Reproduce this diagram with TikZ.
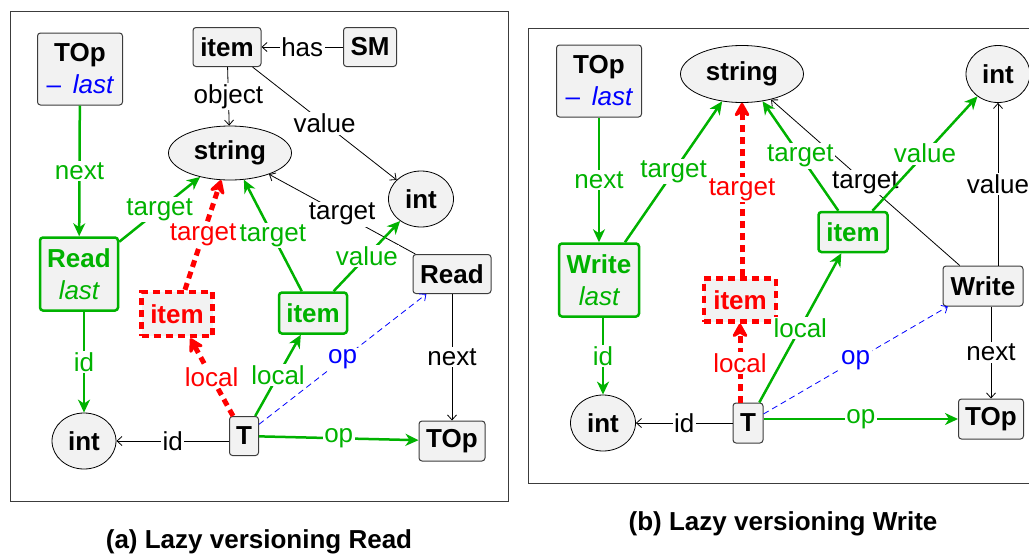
\documentclass[tikz,border=0pt]{standalone}
\usepackage{fontspec}
\setmainfont{Liberation Sans}
\usetikzlibrary{arrows.meta,shapes.geometric}
\definecolor{gr}{RGB}{0,178,0}
\definecolor{rd}{RGB}{255,0,0}
\definecolor{bl}{RGB}{0,0,255}
\definecolor{boxfill}{RGB}{242,242,242}
\definecolor{boxline}{RGB}{60,60,60}
\begin{document}
\begin{tikzpicture}[x=1pt,y=-1pt,
  every node/.style={font=\fontsize{26}{32}\selectfont},
  bx/.style={draw=boxline, fill=boxfill, rounded corners=3pt, line width=1pt, inner sep=0pt, font=\fontsize{26}{32}\selectfont\bfseries, align=center},
  gbx/.style={bx, draw=gr, line width=2.5pt, text=gr},
  rbx/.style={bx, draw=rd, line width=4.5pt, dash pattern=on 7pt off 5pt, rounded corners=0pt, text=rd},
  el/.style={ellipse, draw=black, fill=boxfill, line width=0.8pt, inner sep=0pt, font=\fontsize{26}{32}\selectfont\bfseries},
  sz/.style 2 args={minimum width=#1pt, minimum height=#2pt},
  blk/.style={draw=black, line width=0.8pt, -{Straight Barb[length=5pt,width=9pt]}},
  grn/.style={draw=gr, line width=2.5pt, -{Stealth[length=13pt,width=12pt,inset=4pt]}},
  redarr/.style={draw=rd, line width=5pt, dash pattern=on 7pt off 5pt, -{Stealth[length=17pt,width=19pt,round]}},
  blu/.style={draw=bl, line width=0.8pt, dash pattern=on 6pt off 4pt, -{Straight Barb[length=5pt,width=9pt]}},
  lb/.style={fill=white, inner sep=1.5pt, font=\fontsize{26}{30}\selectfont},
  captext/.style={font=\fontsize{26}{30}\selectfont\bfseries},
]
\useasboundingbox (0,0) rectangle (1029,555);
% frames
\draw[boxline, line width=1pt] (10,11) rectangle (508,501);
\draw[boxline, line width=1pt] (528,28) rectangle (1040,483);

% ---------- panel (a) ----------
\node[bx, sz={85}{72}] (aTop) at (80,69) {TOp\\{\color{bl}\mdseries –\hspace{0.45em}\itshape last}};
\node[bx, sz={68}{39}] (aItem) at (227,47) {item};
\node[bx, sz={53}{39}] (aSM) at (370,47) {SM};
\node[el, sz={123}{54}] (aStr) at (230,153) {string};
\node[el, sz={65}{56}] (aInt1) at (421,199) {int};
\node[gbx, sz={78}{73}] (aRead) at (79,274) {Read\\{\mdseries\itshape last}};
\node[rbx, sz={71}{44}] (aIr) at (177,314) {item};
\node[gbx, sz={68}{41}] (aIg) at (313,313) {item};
\node[bx, sz={78}{39}] (aRB) at (452,274) {Read};
\node[el, sz={64}{56}] (aInt2) at (84,441) {int};
\node[bx, sz={29}{39}] (aT) at (244,436) {T};
\node[bx, sz={66}{40}] (aTop2) at (452,441) {TOp};

\draw[blk] (aSM) -- node[lb]{has} (aItem);
\draw[blk] (aItem) -- node[lb]{object} (aStr);
\draw[blk] (aItem) -- node[lb]{value} (aInt1);
\draw[blk] (aRB) -- node[lb]{target} (aStr);
\draw[blk] (aRB) -- node[lb]{next} (aTop2);
\draw[blk] (aT.west |- aInt2) -- node[lb]{id} (aInt2);
\draw[blu] (aT) -- node[lb, text=bl]{op} (aRB);
\draw[grn] (aTop) -- node[lb, text=gr]{next} (aRead);
\draw[grn] (aRead) -- node[lb, text=gr]{target} (aStr);
\draw[grn] (aIg) -- node[lb, text=gr]{target} (aStr);
\draw[grn] (aIg) -- node[lb, text=gr]{value} (aInt1);
\draw[grn] (aT) -- node[lb, text=gr]{local} (aIg);
\draw[grn] (aT) -- node[lb, text=gr]{op} (aTop2);
\draw[grn] (aInt2 |- aRead.south) -- node[lb, text=gr]{id} (aInt2);
\draw[redarr] (aIr) -- node[lb, text=rd]{target} (aStr);
\draw[redarr] (aT) -- node[lb, text=rd]{local} (aIr);

% ---------- panel (b) ----------
\node[bx, sz={85}{72}] (bTop) at (599,81) {TOp\\{\color{bl}\mdseries –\hspace{0.45em}\itshape last}};
\node[el, sz={123}{57}] (bStr) at (742,74) {string};
\node[el, sz={64}{57}] (bInt1) at (998,74) {int};
\node[gbx, sz={80}{73}] (bW) at (599,280) {Write\\{\mdseries\itshape last}};
\node[gbx, sz={69}{40}] (bIg) at (853,232) {item};
\node[rbx, sz={72}{43}] (bIr) at (740,300) {item};
\node[bx, sz={80}{40}] (bWB) at (983,286) {Write};
\node[el, sz={65}{56}] (bInt2) at (603,423) {int};
\node[bx, sz={30}{40}] (bT) at (748,423) {T};
\node[bx, sz={65}{40}] (bTop2) at (991,419) {TOp};

\draw[blk] (bWB) -- node[lb]{target} (bStr);
\draw[blk] (bInt1 |- bWB.north) -- node[lb]{value} (bInt1);
\draw[blk] (bTop2 |- bWB.south) -- node[lb]{next} (bTop2);
\draw[blk] (bT) -- node[lb]{id} (bInt2);
\draw[blu] (bT) -- node[lb, text=bl]{op} (bWB);
\draw[grn] (bTop) -- node[lb, text=gr]{next} (bW);
\draw[grn] (bW) -- node[lb, text=gr]{target} (bStr.-126);
\draw[grn] (bIg) -- node[lb, text=gr]{target} (bStr.-53);
\draw[grn] (bIg) -- node[lb, text=gr]{value} (bInt1);
\draw[grn] (bT) -- node[lb, text=gr]{local} (bIg);
\draw[grn] (bT.east |- bTop2) -- node[lb, text=gr]{op} (bTop2);
\draw[grn] (bInt2 |- bW.south) -- node[lb, text=gr]{id} (bInt2);
\draw[redarr] (bStr |- bIr.north) -- node[lb, text=rd]{target} (bStr);
\draw[redarr] (bIr |- bT.north) -- node[lb, text=rd]{local} (bIr);

% captions
\node[captext] (capA) at (259,542) {(a) Lazy versioning Read};
\node[captext] (capB) at (783,524) {(b) Lazy versioning Write};
\end{tikzpicture}
\end{document}
